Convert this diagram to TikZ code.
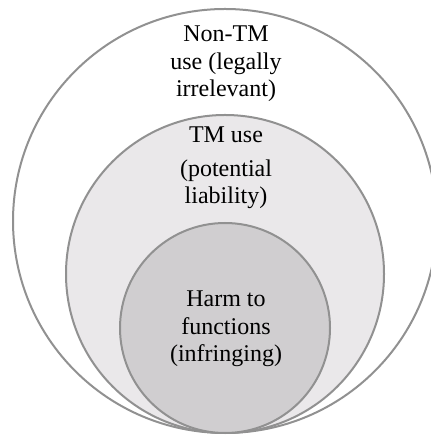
\documentclass[tikz,border=0pt]{standalone}
\usepackage{fontspec}
\setmainfont{Liberation Serif}
\usetikzlibrary{positioning}
\definecolor{ringline}{RGB}{145,145,145}
\definecolor{tmfill}{RGB}{234,232,234}
\definecolor{harmfill}{RGB}{208,206,208}
\tikzset{
    ring/.style={draw=ringline, line width=2pt, circle, inner sep=0pt},
    ringtext/.style={align=center, inner sep=0pt, anchor=base,
        font=\fontsize{24}{27.5}\selectfont}
}

\begin{document}
\begin{tikzpicture}[x=1pt, y=1pt]
\useasboundingbox (0,0) rectangle (430,435);
% rings, all touching at the bottom
\node[ring, fill=white, minimum size=424pt] (nontm) at (225,214) {};
\node[ring, fill=tmfill, minimum size=318pt] (tmuse) at (225,161) {};
\node[ring, fill=harmfill, minimum size=210pt] (harm) at (225,107) {};
% labels (anchored at the last line)
\node[ringtext] (nontmtext) at (226,338) {Non-TM\\use (legally\\irrelevant)};
\node[ringtext] (tmusetext) at (226,231) {TM use\\[6pt](potential\\liability)};
\node[ringtext] (harmtext) at (226,73) {Harm to\\functions\\(infringing)};
\end{tikzpicture}
\end{document}
